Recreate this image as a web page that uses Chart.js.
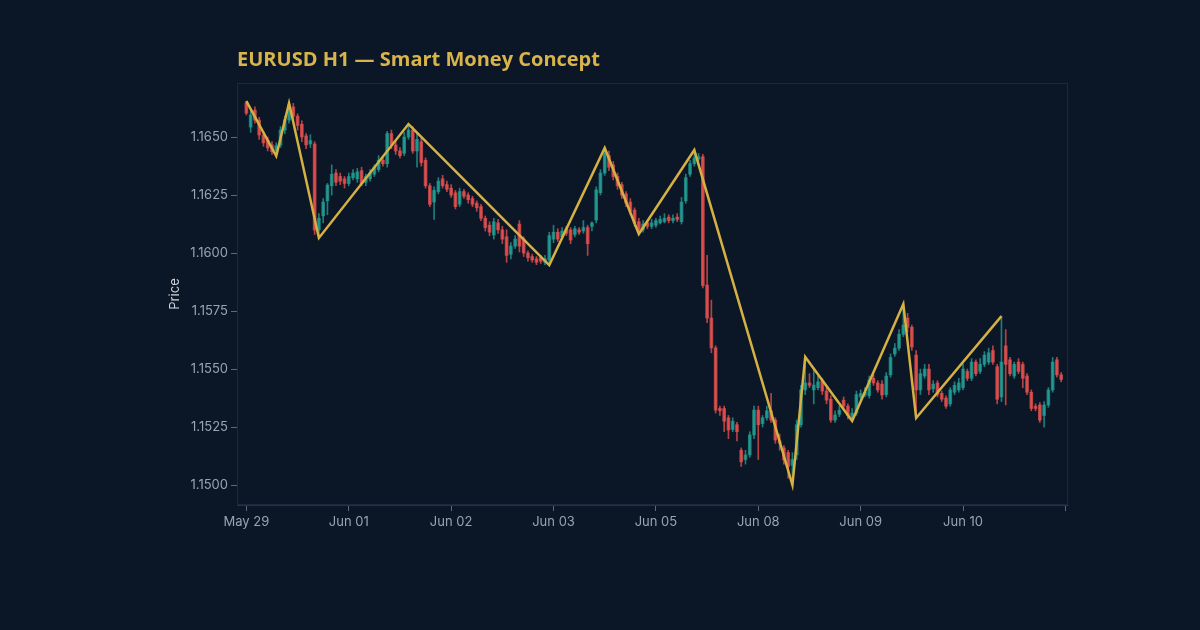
<!DOCTYPE html>
<html><head><meta charset="utf-8">
<script src="https://cdn.jsdelivr.net/npm/chart.js@4.4.1/dist/chart.umd.min.js"></script>
<style>html,body{margin:0;padding:0;background:#0b1626;}canvas{display:block}</style>
</head><body><canvas id="c" width="1200" height="630"></canvas>
<script>
const opens=[1.16647,1.16543,1.16616,1.16573,1.16509,1.16487,1.16466,1.16440,1.16465,1.16530,1.16573,1.16630,1.16590,1.16555,1.16505,1.16470,1.16470,1.16100,1.16160,1.16225,1.16290,1.16345,1.16330,1.16320,1.16300,1.16325,1.16320,1.16355,1.16305,1.16320,1.16340,1.16360,1.16400,1.16385,1.16515,1.16466,1.16440,1.16430,1.16500,1.16530,1.16440,1.16480,1.16400,1.16290,1.16220,1.16265,1.16320,1.16295,1.16280,1.16260,1.16210,1.16265,1.16250,1.16235,1.16215,1.16200,1.16150,1.16120,1.16078,1.16130,1.16100,1.16070,1.15995,1.16030,1.16125,1.16060,1.16000,1.15985,1.15975,1.15980,1.15960,1.15970,1.16060,1.16090,1.16070,1.16105,1.16100,1.16080,1.16100,1.16095,1.16110,1.16115,1.16142,1.16260,1.16345,1.16420,1.16380,1.16330,1.16295,1.16255,1.16220,1.16185,1.16135,1.16100,1.16130,1.16115,1.16120,1.16130,1.16135,1.16155,1.16140,1.16155,1.16135,1.16225,1.16340,1.16385,1.16405,1.16415,1.15862,1.15720,1.15591,1.15330,1.15330,1.15290,1.15240,1.15260,1.15150,1.15110,1.15130,1.15216,1.15323,1.15265,1.15290,1.15320,1.15280,1.15190,1.15160,1.15140,1.15085,1.15130,1.15260,1.15410,1.15440,1.15410,1.15420,1.15450,1.15405,1.15370,1.15280,1.15305,1.15366,1.15340,1.15290,1.15310,1.15380,1.15388,1.15385,1.15460,1.15440,1.15435,1.15390,1.15475,1.15565,1.15590,1.15650,1.15720,1.15680,1.15560,1.15410,1.15470,1.15500,1.15415,1.15440,1.15395,1.15375,1.15350,1.15400,1.15410,1.15420,1.15490,1.15460,1.15530,1.15490,1.15520,1.15530,1.15580,1.15510,1.15380,1.15600,1.15540,1.15470,1.15530,1.15520,1.15470,1.15400,1.15340,1.15345,1.15300,1.15345,1.15410,1.15540,1.15475];
const highs=[1.16655,1.16610,1.16630,1.16585,1.16520,1.16500,1.16480,1.16475,1.16545,1.16590,1.16647,1.16645,1.16600,1.16570,1.16515,1.16510,1.16480,1.16170,1.16235,1.16300,1.16380,1.16360,1.16345,1.16330,1.16345,1.16360,1.16365,1.16370,1.16340,1.16360,1.16380,1.16420,1.16410,1.16525,1.16530,1.16480,1.16455,1.16520,1.16556,1.16545,1.16520,1.16495,1.16410,1.16300,1.16285,1.16325,1.16335,1.16310,1.16295,1.16270,1.16280,1.16275,1.16260,1.16245,1.16225,1.16210,1.16160,1.16135,1.16150,1.16145,1.16115,1.16100,1.16045,1.16075,1.16140,1.16070,1.16010,1.15995,1.15985,1.15990,1.15990,1.16090,1.16120,1.16105,1.16110,1.16115,1.16110,1.16115,1.16110,1.16140,1.16120,1.16135,1.16285,1.16360,1.16453,1.16440,1.16395,1.16345,1.16305,1.16265,1.16235,1.16195,1.16150,1.16140,1.16140,1.16145,1.16150,1.16160,1.16170,1.16165,1.16165,1.16170,1.16240,1.16340,1.16400,1.16444,1.16430,1.16425,1.15990,1.15797,1.15600,1.15340,1.15340,1.15300,1.15290,1.15270,1.15160,1.15150,1.15230,1.15340,1.15340,1.15300,1.15340,1.15395,1.15290,1.15220,1.15170,1.15150,1.15140,1.15280,1.15430,1.15552,1.15480,1.15500,1.15470,1.15460,1.15420,1.15385,1.15320,1.15340,1.15380,1.15350,1.15330,1.15405,1.15410,1.15420,1.15470,1.15475,1.15450,1.15450,1.15485,1.15565,1.15610,1.15670,1.15780,1.15740,1.15690,1.15580,1.15500,1.15520,1.15520,1.15450,1.15450,1.15405,1.15385,1.15420,1.15445,1.15460,1.15520,1.15500,1.15545,1.15540,1.15545,1.15575,1.15590,1.15600,1.15520,1.15728,1.15670,1.15550,1.15530,1.15545,1.15530,1.15480,1.15410,1.15350,1.15355,1.15360,1.15420,1.15550,1.15550,1.15485];
const lows=[1.16595,1.16520,1.16560,1.16490,1.16460,1.16440,1.16425,1.16418,1.16455,1.16515,1.16560,1.16575,1.16530,1.16480,1.16450,1.16455,1.16080,1.16065,1.16130,1.16165,1.16250,1.16290,1.16295,1.16280,1.16290,1.16315,1.16305,1.16290,1.16290,1.16310,1.16330,1.16350,1.16375,1.16370,1.16450,1.16425,1.16410,1.16420,1.16490,1.16430,1.16370,1.16375,1.16280,1.16200,1.16145,1.16255,1.16280,1.16265,1.16240,1.16190,1.16200,1.16235,1.16215,1.16200,1.16180,1.16140,1.16095,1.16075,1.16060,1.16085,1.16040,1.15960,1.15975,1.16020,1.16005,1.15985,1.15965,1.15960,1.15950,1.15955,1.15950,1.15948,1.16045,1.16050,1.16060,1.16075,1.16040,1.16070,1.16080,1.16085,1.15990,1.16095,1.16130,1.16250,1.16335,1.16355,1.16315,1.16275,1.16235,1.16200,1.16165,1.16115,1.16082,1.16090,1.16105,1.16105,1.16110,1.16125,1.16130,1.16130,1.16130,1.16135,1.16125,1.16215,1.16330,1.16375,1.16395,1.15850,1.15700,1.15570,1.15310,1.15300,1.15230,1.15200,1.15230,1.15190,1.15080,1.15090,1.15120,1.15200,1.15110,1.15250,1.15280,1.15270,1.15180,1.15150,1.15090,1.15030,1.15000,1.15110,1.15250,1.15390,1.15420,1.15350,1.15410,1.15390,1.15350,1.15270,1.15270,1.15295,1.15330,1.15285,1.15276,1.15300,1.15370,1.15380,1.15375,1.15430,1.15400,1.15370,1.15380,1.15465,1.15555,1.15580,1.15640,1.15660,1.15580,1.15300,1.15390,1.15460,1.15390,1.15400,1.15380,1.15360,1.15330,1.15340,1.15390,1.15400,1.15410,1.15450,1.15450,1.15470,1.15480,1.15510,1.15520,1.15520,1.15350,1.15360,1.15345,1.15470,1.15460,1.15480,1.15420,1.15390,1.15320,1.15320,1.15270,1.15250,1.15335,1.15400,1.15465,1.15445];
const closes=[1.16603,1.16595,1.16573,1.16509,1.16475,1.16453,1.16437,1.16462,1.16530,1.16575,1.16638,1.16590,1.16550,1.16500,1.16466,1.16485,1.16099,1.16150,1.16220,1.16293,1.16340,1.16305,1.16310,1.16300,1.16330,1.16345,1.16350,1.16300,1.16330,1.16345,1.16370,1.16400,1.16385,1.16515,1.16466,1.16440,1.16420,1.16500,1.16530,1.16440,1.16490,1.16390,1.16290,1.16210,1.16270,1.16310,1.16290,1.16275,1.16250,1.16200,1.16265,1.16245,1.16230,1.16210,1.16195,1.16150,1.16110,1.16090,1.16135,1.16100,1.16060,1.15990,1.16030,1.16060,1.16030,1.16000,1.15980,1.15970,1.15960,1.15965,1.15975,1.16075,1.16090,1.16060,1.16095,1.16085,1.16056,1.16105,1.16090,1.16110,1.16040,1.16130,1.16272,1.16345,1.16430,1.16370,1.16330,1.16290,1.16250,1.16215,1.16180,1.16130,1.16100,1.16125,1.16115,1.16130,1.16140,1.16145,1.16150,1.16140,1.16150,1.16145,1.16220,1.16325,1.16385,1.16410,1.16415,1.15860,1.15720,1.15591,1.15323,1.15320,1.15275,1.15237,1.15275,1.15230,1.15100,1.15130,1.15216,1.15323,1.15260,1.15290,1.15320,1.15280,1.15194,1.15180,1.15108,1.15080,1.15110,1.15260,1.15410,1.15440,1.15430,1.15431,1.15445,1.15405,1.15366,1.15280,1.15302,1.15323,1.15340,1.15300,1.15310,1.15390,1.15395,1.15400,1.15453,1.15440,1.15410,1.15388,1.15470,1.15550,1.15590,1.15650,1.15690,1.15680,1.15595,1.15410,1.15480,1.15500,1.15410,1.15435,1.15390,1.15370,1.15340,1.15410,1.15430,1.15440,1.15500,1.15460,1.15530,1.15480,1.15520,1.15560,1.15570,1.15530,1.15370,1.15530,1.15520,1.15480,1.15520,1.15490,1.15460,1.15400,1.15330,1.15330,1.15280,1.15345,1.15410,1.15530,1.15475,1.15455];
const zzIdx=[0,7,10,17,38,71,84,92,105,128,131,142,154,157,177];
const zzPrice=[1.16655,1.16418,1.16647,1.16065,1.16556,1.15948,1.16453,1.16082,1.16444,1.15000,1.15552,1.15276,1.15780,1.15289,1.15728];
const tickIdx=[0,24,48,72,96,120,144,168,192];
const tickLabels=['May 29','Jun 01','Jun 02','Jun 03','Jun 05','Jun 08','Jun 09','Jun 10',''];
const yTickVals=[1.1500,1.1525,1.1550,1.1575,1.1600,1.1625,1.1650];

const UP='rgba(38,166,154,0.72)', DOWN='rgba(239,83,80,0.75)';
const candleColor=c=>closes[c.dataIndex]>=opens[c.dataIndex]?UP:DOWN;
const frame={id:'frame',beforeDatasetsDraw(chart){const a=chart.chartArea,ctx=chart.ctx;ctx.save();ctx.strokeStyle='#1c283b';ctx.lineWidth=1;ctx.strokeRect(a.left+0.5,a.top+0.5,a.width-1,a.height-1);ctx.restore();}};
const FONT='Inter, "Noto Sans", sans-serif';
new Chart(document.getElementById('c'),{
 type:'bar',
 data:{datasets:[
  {type:'line',label:'Zigzag',data:zzIdx.map((x,k)=>({x:x,y:zzPrice[k]})),borderColor:'#d4b142',borderWidth:2.5,pointRadius:0,tension:0,order:0},
  {label:'Body',data:opens.map((o,i)=>({x:i,y:[o,closes[i]]})),backgroundColor:candleColor,barThickness:3,minBarLength:1,grouped:false,order:1},
  {label:'Wick',data:opens.map((o,i)=>({x:i,y:[lows[i],highs[i]]})),backgroundColor:candleColor,barThickness:1,grouped:false,order:2}
 ]},
 options:{
  responsive:false,animation:false,devicePixelRatio:1,
  layout:{padding:{left:160,right:132,top:48,bottom:85}},
  plugins:{legend:{display:false},tooltip:{enabled:false},
   title:{display:true,text:'EURUSD H1 — Smart Money Concept',align:'start',fullSize:false,color:'#d9b44a',font:{family:'"Open Sans", sans-serif',size:20,weight:'bold'},padding:{top:0,bottom:11}}},
  scales:{
   x:{type:'linear',min:-2.2,max:192.6,offset:false,
    grid:{display:true,drawOnChartArea:false,offset:false,tickLength:6,color:'#5d6879'},
    border:{color:'#26324a'},
    afterBuildTicks:s=>{s.ticks=tickIdx.map(v=>({value:v}));},
    ticks:{callback:v=>tickLabels[tickIdx.indexOf(v)],color:'#9aa3b2',font:{family:FONT,size:13},maxRotation:0,autoSkip:false,padding:3},
    afterFit:s=>{s.height=40;}},
   y:{type:'linear',min:1.14914,max:1.16733,beginAtZero:false,
    grid:{display:true,drawOnChartArea:false,tickLength:6,color:'#5d6879'},
    border:{color:'#26324a'},
    afterBuildTicks:s=>{s.ticks=yTickVals.map(v=>({value:v}));},
    ticks:{callback:v=>Number(v).toFixed(4),color:'#9aa3b2',font:{family:FONT,size:13},padding:3},
    title:{display:true,text:'Price',color:'#d0d4dc',font:{family:FONT,size:13},padding:{top:7,bottom:0}},
    afterFit:s=>{s.width=77;}}
  }
 },
 plugins:[frame]
});
</script></body></html>
